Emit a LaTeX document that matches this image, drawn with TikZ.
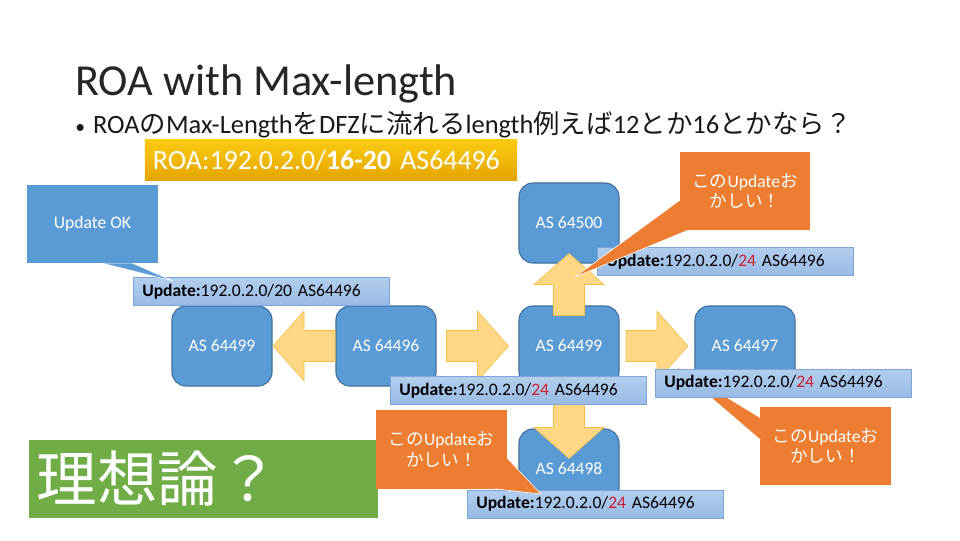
\documentclass[tikz,border=0pt]{standalone}
\usepackage{fontspec}
\setmainfont{Carlito}
\newfontfamily\jp{Noto Sans CJK JP}
\usepackage{tikz}
\usetikzlibrary{calc}
\definecolor{asblue}{HTML}{5B9BD5}
\definecolor{asedge}{HTML}{41719C}
\definecolor{labeltop}{HTML}{B3CEEE}
\definecolor{labelbottom}{HTML}{97BAE5}
\definecolor{labeledge}{HTML}{7DA5D8}
\definecolor{warnorange}{HTML}{ED7D31}
\definecolor{arrowfill}{HTML}{FFD785}
\definecolor{arrowedge}{HTML}{F4BE45}
\definecolor{idealgreen}{HTML}{70AD47}
\definecolor{roatop}{HTML}{FACB12}
\definecolor{roabottom}{HTML}{E5A500}
\definecolor{prefixred}{HTML}{D01F2F}
\newcommand{\warntext}{{\jp この}Update{\jp お}\\{\jp かしい！}}
\newcommand{\redlen}{\textcolor{prefixred}{24}}
\newcommand{\calloutwedge}[4]{\fill[#1] #2 -- #3 -- #4 -- cycle; \draw[white,thin] #2 -- #3 -- #4;}
\tikzset{
  titletext/.style={inner sep=0,text=black!85,font=\fontsize{31.5}{36}\selectfont},
  bullettext/.style={inner sep=0,text=black!90,font=\fontsize{18.8}{23}\selectfont},
  asbox/.style={draw=asedge,fill=asblue,line width=0.8pt,rounded corners=0.35cm,minimum width=2.5cm,minimum height=2cm,text=white,font=\fontsize{12.5}{15}\selectfont},
  okbox/.style={fill=asblue,minimum width=3.275cm,minimum height=1.95cm,text=white,font=\fontsize{12.5}{15}\selectfont},
  warnbox/.style={fill=warnorange,minimum width=3.25cm,minimum height=1.95cm,align=center,text=white,font=\fontsize{12.5}{14.5}\selectfont},
  idealbox/.style={fill=idealgreen,minimum height=1.95cm,text width=8.325cm,inner xsep=0.2cm,align=left,text=white,font=\jp\fontsize{43}{46}\selectfont},
  roabox/.style={top color=roatop,bottom color=roabottom,minimum height=1cm,text width=8.9cm,inner xsep=0.2cm,align=left,text=white,font=\fontsize{19.8}{22}\selectfont},
  updbox/.style={top color=labeltop,bottom color=labelbottom,draw=labeledge,minimum height=0.7cm,text width=5.95cm,inner xsep=0.225cm,inner ysep=0pt,align=left,font=\fontsize{12.5}{15}\selectfont},
  blockarrow/.pic={\draw[arrowedge,fill=arrowfill] (-31,-15.5) -- (0,-15.5) -- (0,-35) -- (31,0) -- (0,35) -- (0,15.5) -- (-31,15.5) -- cycle;}
}
\begin{document}
\begin{tikzpicture}[x=0.025cm,y=-0.025cm]
  \useasboundingbox (0,0) rectangle (960,540);
  \node[titletext,anchor=base west] (title) at (75,95) {ROA with Max-length};
  \node[bullettext,anchor=base west] (question) at (75,133) {{\fontsize{14}{14}\selectfont•}\hspace{0.3em}ROA{\jp の}Max-Length{\jp を}DFZ{\jp に流れる}length{\jp 例えば}12{\jp とか}16{\jp とかなら？}};
  \node[roabox] (roa) at (331,160) {ROA:192.0.2.0/\textbf{16-20} AS64496};
  \node[asbox] (as500) at (569,223) {AS 64500};
  \node[asbox] (as99l) at (222,346) {AS 64499};
  \node[asbox] (as96) at (386,346) {AS 64496};
  \node[asbox] (as99c) at (569,346) {AS 64499};
  \node[asbox] (as97) at (745,346) {AS 64497};
  \node[asbox] (as98) at (569,469) {AS 64498};
  \node[okbox] (ok) at (92.5,224) {Update OK};
  \node[warnbox] (bad1) at (745,191) {\warntext};
  \node[warnbox] (bad3) at (825.5,446) {\warntext};
  \node[idealbox] (ideal) at (203.5,479) {理想論？};
  \node[warnbox] (bad2) at (441.5,449.5) {\warntext};
  \pic[rotate=180] at ($(as96.west)!0.5!(as99l.east)$) {blockarrow};
  \pic at ($(as96.east)!0.5!(as99c.west)$) {blockarrow};
  \pic at ($(as99c.east)!0.5!(as97.west)$) {blockarrow};
  \pic[rotate=90] at ($(as99c.north)!0.5!(as500.south)$) {blockarrow};
  \pic[rotate=-90] at ($(as99c.south)!0.5!(as98.north)+(0,20)$) {blockarrow};
  \coordinate (tip3) at (672,364);
  \calloutwedge{warnorange}{($(bad3.north west)+(0,11)$)}{(tip3)}{($(bad3.north west)+(0,33)$)}
  \node[updbox,anchor=west] (upd20) at (133,291.5) {\textbf{Update:}192.0.2.0/20 AS64496};
  \node[updbox,anchor=west] (updA) at (597,261.5) {\textbf{Update:}192.0.2.0/\redlen{} AS64496};
  \node[updbox,anchor=west] (updB) at (390,390.5) {\textbf{Update:}192.0.2.0/\redlen{} AS64496};
  \node[updbox,anchor=west] (updC) at (655,383) {\textbf{Update:}192.0.2.0/\redlen{} AS64496};
  \node[updbox,anchor=west] (updD) at (467,504) {\textbf{Update:}192.0.2.0/\redlen{} AS64496};
  \coordinate (tip1) at (575,277);
  \coordinate (tip2) at (541,494);
  \coordinate (tipok) at (173,281);
  \calloutwedge{warnorange}{($(bad1.south west)+(0,-30)$)}{(tip1)}{($(bad1.south west)+(8,0)$)}
  \calloutwedge{warnorange}{($(bad2.south east)+(0,-31)$)}{(tip2)}{($(bad2.south east)+(-12,0)$)}
  \calloutwedge{asblue}{($(ok.south west)+(76,0)$)}{(tipok)}{($(ok.south west)+(106,0)$)}
\end{tikzpicture}
\end{document}
